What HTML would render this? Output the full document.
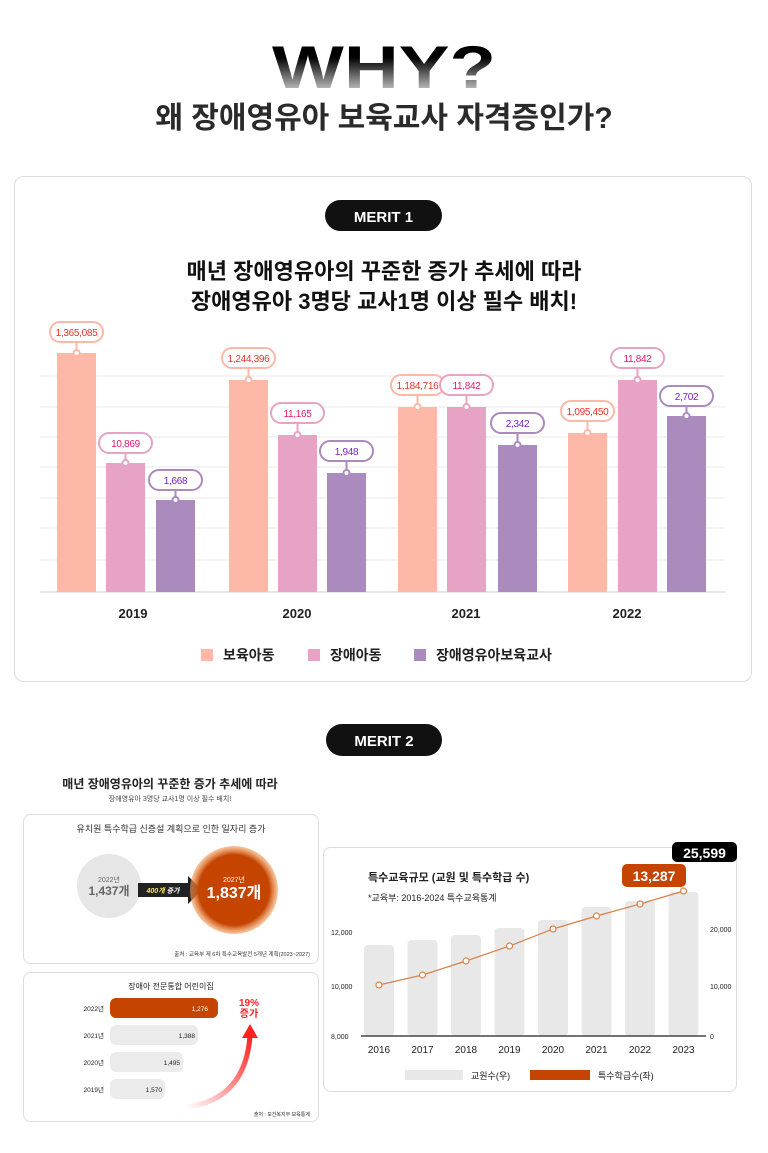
<!DOCTYPE html>
<html><head><meta charset="utf-8"><style>
body{margin:0;background:#fff;}
svg{display:block;font-family:"Liberation Sans","Noto Sans CJK KR",sans-serif;}
</style></head><body>
<svg width="768" height="1153" viewBox="0 0 768 1153" xmlns="http://www.w3.org/2000/svg">
<defs>
<linearGradient id="why" x1="0" y1="0" x2="0" y2="1"><stop offset="0.35" stop-color="#000"/><stop offset="1" stop-color="#fff"/></linearGradient>
<radialGradient id="og" cx="0.5" cy="0.5" r="0.5"><stop offset="0.8" stop-color="#c44400"/><stop offset="1" stop-color="#f5a060" stop-opacity="0.6"/></radialGradient>
<linearGradient id="ra" x1="0" y1="1" x2="1" y2="0"><stop offset="0" stop-color="#fff"/><stop offset="1" stop-color="#f22"/></linearGradient>
</defs>
<text x="272" y="88" textLength="224" lengthAdjust="spacingAndGlyphs" font-size="60" font-weight="900" fill="url(#why)">WHY?</text>
<text x="384" y="128" text-anchor="middle" font-size="30" font-weight="bold" fill="#2a2a2a">왜 장애영유아 보육교사 자격증인가?</text>

<rect x="14.5" y="176.5" width="737" height="505" rx="9" fill="#fff" stroke="#ddd"/>
<rect x="325" y="200" width="117" height="31" rx="15.5" fill="#111"/>
<text x="383.5" y="222" text-anchor="middle" font-size="15" font-weight="bold" fill="#fff">MERIT 1</text>
<text x="384" y="279" text-anchor="middle" font-size="22" font-weight="bold" fill="#111">매년 장애영유아의 꾸준한 증가 추세에 따라</text>
<text x="384" y="309" text-anchor="middle" font-size="22" font-weight="bold" fill="#111">장애영유아 3명당 교사1명 이상 필수 배치!</text>
<g stroke="#e8e8e8" stroke-width="1">
<line x1="40" x2="725" y1="376" y2="376"/><line x1="40" x2="725" y1="407" y2="407"/><line x1="40" x2="725" y1="437" y2="437"/><line x1="40" x2="725" y1="467" y2="467"/><line x1="40" x2="725" y1="498" y2="498"/><line x1="40" x2="725" y1="528" y2="528"/><line x1="40" x2="725" y1="560" y2="560"/>
</g>
<line x1="40" x2="725" y1="592" y2="592" stroke="#ccc"/>
<g>
<rect x="57" y="353" width="39" height="239" fill="#fdb8a8"/>
<rect x="106" y="463" width="39" height="129" fill="#e7a3c4"/>
<rect x="156" y="500" width="39" height="92" fill="#ab8abd"/>
<rect x="229" y="380" width="39" height="212" fill="#fdb8a8"/>
<rect x="278" y="435" width="39" height="157" fill="#e7a3c4"/>
<rect x="327" y="473" width="39" height="119" fill="#ab8abd"/>
<rect x="398" y="407" width="39" height="185" fill="#fdb8a8"/>
<rect x="447" y="407" width="39" height="185" fill="#e7a3c4"/>
<rect x="498" y="445" width="39" height="147" fill="#ab8abd"/>
<rect x="568" y="433" width="39" height="159" fill="#fdb8a8"/>
<rect x="618" y="380" width="39" height="212" fill="#e7a3c4"/>
<rect x="667" y="416" width="39" height="176" fill="#ab8abd"/>
</g>
<g font-size="10" text-anchor="middle" letter-spacing="-0.3">
<g stroke="#fdb8a8" stroke-width="2"><rect x="50" y="322" width="53" height="20" rx="10" fill="#fff"/><line x1="76.5" y1="342" x2="76.5" y2="353"/><circle cx="76.5" cy="353" r="3" fill="#fff"/></g><text x="76.5" y="336" fill="#e8322a">1,365,085</text>
<g stroke="#e7a3c4" stroke-width="2"><rect x="99" y="433" width="53" height="20" rx="10" fill="#fff"/><line x1="125.5" y1="453" x2="125.5" y2="463"/><circle cx="125.5" cy="463" r="3" fill="#fff"/></g><text x="125.5" y="447" fill="#e01870">10,869</text>
<g stroke="#ab8abd" stroke-width="2"><rect x="149" y="470" width="53" height="20" rx="10" fill="#fff"/><line x1="175.5" y1="490" x2="175.5" y2="500"/><circle cx="175.5" cy="500" r="3" fill="#fff"/></g><text x="175.5" y="484" fill="#7a1ec8">1,668</text>
<g stroke="#fdb8a8" stroke-width="2"><rect x="222" y="348" width="53" height="20" rx="10" fill="#fff"/><line x1="248.5" y1="368" x2="248.5" y2="380"/><circle cx="248.5" cy="380" r="3" fill="#fff"/></g><text x="248.5" y="362" fill="#e8322a">1,244,396</text>
<g stroke="#e7a3c4" stroke-width="2"><rect x="271" y="403" width="53" height="20" rx="10" fill="#fff"/><line x1="297.5" y1="423" x2="297.5" y2="435"/><circle cx="297.5" cy="435" r="3" fill="#fff"/></g><text x="297.5" y="417" fill="#e01870">11,165</text>
<g stroke="#ab8abd" stroke-width="2"><rect x="320" y="441" width="53" height="20" rx="10" fill="#fff"/><line x1="346.5" y1="461" x2="346.5" y2="473"/><circle cx="346.5" cy="473" r="3" fill="#fff"/></g><text x="346.5" y="455" fill="#7a1ec8">1,948</text>
<g stroke="#fdb8a8" stroke-width="2"><rect x="391" y="375" width="53" height="20" rx="10" fill="#fff"/><line x1="417.5" y1="395" x2="417.5" y2="407"/><circle cx="417.5" cy="407" r="3" fill="#fff"/></g><text x="417.5" y="389" fill="#e8322a">1,184,716</text>
<g stroke="#e7a3c4" stroke-width="2"><rect x="440" y="375" width="53" height="20" rx="10" fill="#fff"/><line x1="466.5" y1="395" x2="466.5" y2="407"/><circle cx="466.5" cy="407" r="3" fill="#fff"/></g><text x="466.5" y="389" fill="#e01870">11,842</text>
<g stroke="#ab8abd" stroke-width="2"><rect x="491" y="413" width="53" height="20" rx="10" fill="#fff"/><line x1="517.5" y1="433" x2="517.5" y2="445"/><circle cx="517.5" cy="445" r="3" fill="#fff"/></g><text x="517.5" y="427" fill="#7a1ec8">2,342</text>
<g stroke="#fdb8a8" stroke-width="2"><rect x="561" y="401" width="53" height="20" rx="10" fill="#fff"/><line x1="587.5" y1="421" x2="587.5" y2="433"/><circle cx="587.5" cy="433" r="3" fill="#fff"/></g><text x="587.5" y="415" fill="#e8322a">1,095,450</text>
<g stroke="#e7a3c4" stroke-width="2"><rect x="611" y="348" width="53" height="20" rx="10" fill="#fff"/><line x1="637.5" y1="368" x2="637.5" y2="380"/><circle cx="637.5" cy="380" r="3" fill="#fff"/></g><text x="637.5" y="362" fill="#e01870">11,842</text>
<g stroke="#ab8abd" stroke-width="2"><rect x="660" y="386" width="53" height="20" rx="10" fill="#fff"/><line x1="686.5" y1="406" x2="686.5" y2="416"/><circle cx="686.5" cy="416" r="3" fill="#fff"/></g><text x="686.5" y="400" fill="#7a1ec8">2,702</text>
</g>
<g font-size="13" font-weight="bold" fill="#222" text-anchor="middle">
<text x="133" y="618">2019</text><text x="297" y="618">2020</text><text x="466" y="618">2021</text><text x="627" y="618">2022</text>
</g>
<g font-size="14" font-weight="bold" fill="#222">
<rect x="201" y="649" width="12" height="12" fill="#fdb8a8"/><text x="223" y="660">보육아동</text>
<rect x="308" y="649" width="12" height="12" fill="#e7a3c4"/><text x="330" y="660">장애아동</text>
<rect x="414" y="649" width="12" height="12" fill="#ab8abd"/><text x="436" y="660">장애영유아보육교사</text>
</g>

<rect x="326" y="724" width="116" height="32" rx="16" fill="#111"/>
<text x="384" y="746" text-anchor="middle" font-size="15" font-weight="bold" fill="#fff">MERIT 2</text>

<text x="170" y="788" text-anchor="middle" font-size="12" font-weight="bold" fill="#222">매년 장애영유아의 꾸준한 증가 추세에 따라</text>
<text x="170" y="801" text-anchor="middle" font-size="7" fill="#444">장애영유아 3명당 교사1명 이상 필수 배치!</text>
<rect x="23.5" y="814.5" width="295" height="149" rx="7" fill="#fff" stroke="#ddd"/>
<text x="171" y="832" text-anchor="middle" font-size="9" fill="#333">유치원 특수학급 신증설 계획으로 인한 일자리 증가</text>
<circle cx="109" cy="886" r="32" fill="#e6e6e6"/>
<text x="109" y="882" text-anchor="middle" font-size="7" fill="#666">2022년</text>
<text x="109" y="895" text-anchor="middle" font-size="12" font-weight="bold" fill="#666">1,437개</text>
<polygon points="138,883 188,883 188,876 202,890 188,904 188,897 138,897" fill="#222"/>
<text x="163" y="893" text-anchor="middle" font-size="7" font-style="italic" font-weight="bold" fill="#fff"><tspan fill="#ffe64a">400개</tspan> 증가</text>
<circle cx="234" cy="890" r="44" fill="url(#og)"/>
<text x="234" y="882" text-anchor="middle" font-size="7" fill="#fff">2027년</text>
<text x="234" y="898" text-anchor="middle" font-size="16" font-weight="bold" fill="#fff">1,837개</text>
<text x="310" y="956" text-anchor="end" font-size="5.5" fill="#333">출처 : 교육부 제 6차 특수교육발전 5개년 계획(2023~2027)</text>

<rect x="23.5" y="972.5" width="295" height="149" rx="7" fill="#fff" stroke="#ddd"/>
<text x="171" y="989" text-anchor="middle" font-size="8" fill="#222">장애아 전문통합 어린이집</text>
<rect x="110" y="998" width="108" height="20" rx="6" fill="#c44400"/>
<rect x="110" y="1025" width="88" height="20" rx="6" fill="#ebebeb"/>
<rect x="110" y="1052" width="73" height="20" rx="6" fill="#ebebeb"/>
<rect x="110" y="1079" width="55" height="20" rx="6" fill="#ebebeb"/>
<g font-size="6.5" fill="#222" text-anchor="end">
<text x="104" y="1011">2022년</text><text x="104" y="1038">2021년</text><text x="104" y="1065">2020년</text><text x="104" y="1092">2019년</text>
<text x="208" y="1011" fill="#fff">1,276</text><text x="195" y="1038">1,388</text><text x="180" y="1065">1,495</text><text x="162" y="1092">1,570</text>
</g>
<path d="M186,1107 Q245,1100 250,1036" stroke="url(#ra)" stroke-width="5" fill="none"/>
<polygon points="242,1038 250,1024 258,1038" fill="#f22"/>
<text x="249" y="1006" text-anchor="middle" font-size="10" font-weight="bold" fill="#f22">19%</text>
<text x="249" y="1017" text-anchor="middle" font-size="10" font-weight="bold" fill="#f22">증가</text>
<text x="310" y="1116" text-anchor="end" font-size="5" fill="#333">출처 : 보건복지부 보육통계</text>

<rect x="323.5" y="847.5" width="413" height="244" rx="7" fill="#fff" stroke="#ddd"/>
<rect x="672" y="842" width="65" height="20" rx="5" fill="#000"/>
<text x="704.5" y="858" text-anchor="middle" font-size="14" font-weight="bold" fill="#fff">25,599</text>
<rect x="622" y="864" width="64" height="23" rx="5" fill="#c44400"/>
<text x="654" y="881" text-anchor="middle" font-size="14" font-weight="bold" fill="#fff">13,287</text>
<text x="368" y="881" font-size="11" font-weight="bold" fill="#222">특수교육규모 (교원 및 특수학급 수)</text>
<text x="368" y="901" font-size="9" fill="#222">*교육부: 2016-2024 특수교육통계</text>
<g fill="#e8e8e8">
<rect x="364" y="945" width="30" height="91" rx="4"/>
<rect x="407.5" y="940" width="30" height="96" rx="4"/>
<rect x="451" y="935" width="30" height="101" rx="4"/>
<rect x="494.5" y="928" width="30" height="108" rx="4"/>
<rect x="538" y="920" width="30" height="116" rx="4"/>
<rect x="581.5" y="907" width="30" height="129" rx="4"/>
<rect x="625" y="901" width="30" height="135" rx="4"/>
<rect x="668.5" y="892" width="30" height="144" rx="4"/>
</g>
<line x1="361" x2="706" y1="1036" y2="1036" stroke="#222" stroke-width="1.2"/>
<polyline points="379,985 422.5,975 466,961 509.5,946 553,929 596.5,916 640,904 683.5,891" fill="none" stroke="#d9824a" stroke-width="1.2"/>
<g fill="#fff" stroke="#d9824a" stroke-width="1.2">
<circle cx="379" cy="985" r="3"/><circle cx="422.5" cy="975" r="3"/><circle cx="466" cy="961" r="3"/><circle cx="509.5" cy="946" r="3"/><circle cx="553" cy="929" r="3"/><circle cx="596.5" cy="916" r="3"/><circle cx="640" cy="904" r="3"/><circle cx="683.5" cy="891" r="3"/>
</g>
<g font-size="7" fill="#222">
<text x="331" y="935">12,000</text><text x="331" y="989">10,000</text><text x="331" y="1039">8,000</text>
<text x="710" y="932">20,000</text><text x="710" y="989">10,000</text><text x="710" y="1039">0</text>
</g>
<g font-size="10" fill="#222" text-anchor="middle">
<text x="379" y="1053">2016</text><text x="422.5" y="1053">2017</text><text x="466" y="1053">2018</text><text x="509.5" y="1053">2019</text><text x="553" y="1053">2020</text><text x="596.5" y="1053">2021</text><text x="640" y="1053">2022</text><text x="683.5" y="1053">2023</text>
</g>
<rect x="405" y="1070" width="58" height="10" fill="#e8e8e8"/>
<text x="471" y="1079" font-size="9" fill="#222">교원수(우)</text>
<rect x="530" y="1070" width="60" height="10" fill="#c44400"/>
<text x="598" y="1079" font-size="9" fill="#222">특수학급수(좌)</text>
</svg>
</body></html>
